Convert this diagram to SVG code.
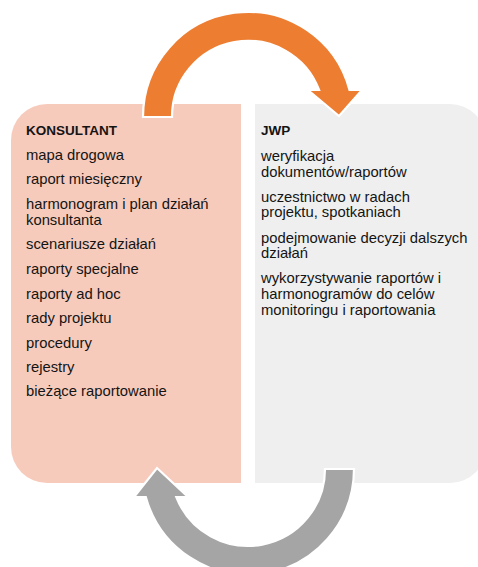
<svg xmlns="http://www.w3.org/2000/svg" width="478" height="567" viewBox="0 0 478 567">
  <defs>
    <style>
      .t { font-family: "Liberation Sans", Arial, sans-serif; font-size: 14.8px; fill: #141414; }
      .h { font-family: "Liberation Sans", Arial, sans-serif; font-size: 13.5px; font-weight: bold; fill: #141414; }
      .arrow { stroke: #ffffff; stroke-width: 2.2; stroke-linejoin: miter; }
    </style>
  </defs>
  <rect width="478" height="567" fill="#ffffff"/>

  <g id="konsultant">
    <path d="M 47,104 L 241,104 L 241,483 L 47,483 A 36 36 0 0 1 11,447 L 11,140 A 36 36 0 0 1 47,104 Z" fill="#F7CBBC"/>
    <text class="h" x="26" y="135">KONSULTANT</text>
    <text class="t" x="26" y="160">mapa drogowa</text>
    <text class="t" x="26" y="184">raport miesięczny</text>
    <text class="t" x="26" y="209">harmonogram i plan działań</text>
    <text class="t" x="26" y="225">konsultanta</text>
    <text class="t" x="26" y="249">scenariusze działań</text>
    <text class="t" x="26" y="274">raporty specjalne</text>
    <text class="t" x="26" y="299">raporty ad hoc</text>
    <text class="t" x="26" y="323">rady projektu</text>
    <text class="t" x="26" y="348">procedury</text>
    <text class="t" x="26" y="372">rejestry</text>
    <text class="t" x="26" y="396">bieżące raportowanie</text>
  </g>

  <g id="jwp">
    <path d="M 255,104 L 450,104 A 36 36 0 0 1 486,140 L 486,447 A 36 36 0 0 1 450,483 L 255,483 Z" fill="#EFEFEF"/>
    <text class="h" x="261" y="135">JWP</text>
    <text class="t" x="261" y="161">weryfikacja</text>
    <text class="t" x="261" y="177">dokumentów/raportów</text>
    <text class="t" x="261" y="202">uczestnictwo w radach</text>
    <text class="t" x="261" y="217">projektu, spotkaniach</text>
    <text class="t" x="261" y="243">podejmowanie decyzji dalszych</text>
    <text class="t" x="261" y="258">działań</text>
    <text class="t" x="261" y="283">wykorzystywanie raportów i</text>
    <text class="t" x="261" y="299">harmonogramów do celów</text>
    <text class="t" x="261" y="315">monitoringu i raportowania</text>
  </g>

  <g id="connectors">
    <path class="arrow" fill="#ED7D31" d="M 143,117 A 105 105 0 0 1 349.5,90 L 362,90 L 339,116 L 308,90 L 319.1,90 A 76 76 0 0 0 172,117 Z"/>
    <path class="arrow" fill="#A5A5A5" d="M 354,469 A 106 106 0 0 1 145.8,497 L 134,497 L 157,468 L 188,497 L 176.3,497 A 77 77 0 0 0 325,469 Z"/>
  </g>
</svg>
